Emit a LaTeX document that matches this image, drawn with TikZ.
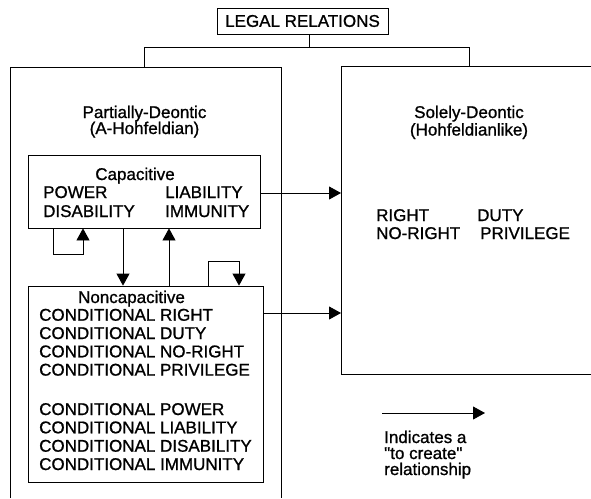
\documentclass[tikz,border=0pt]{standalone}
\usepackage{fontspec}
\setmainfont{Liberation Sans}
\font\mainf="Liberation Sans:embolden=1.0" at 17pt
\usetikzlibrary{arrows.meta}
\begin{document}
\begin{tikzpicture}[x=1pt,y=-1pt,
  line/.style={line width=0.8pt},
  arr/.style={line width=0.8pt,-{Triangle[length=12pt,width=13pt]}},
  box/.style={draw,line width=0.8pt,inner sep=0pt},
  txt/.style={inner sep=0pt,font=\mainf},
  lt/.style={txt,anchor=base west},
  ct/.style={txt,anchor=base},
]
\useasboundingbox (0,0) rectangle (591,498);
% top box
\node[box,txt,minimum width=171pt,minimum height=26pt] (legal) at (302.5,21) {LEGAL RELATIONS};
\coordinate (split) at (309,47);
\coordinate (pl) at (144,67);
\coordinate (sl) at (469,66);
\draw[line] (legal.south -| split) -- (split);
\draw[line] (pl) -- (pl |- split) -- (sl |- split) -- (sl);
% left big box (open at the bottom)
\draw[line] (10,498) -- (10,67) -- (281,67) -- (281,498);
% right big box
\coordinate (rb) at (341,66);
\draw[line] (591,66) -- (rb) -- (341,374) -- (591,374);
% headings
\node[ct] (pd1) at (144.5,118) {Partially-Deontic};
\node[ct] (pd2) at (144.5,134) {(A-Hohfeldian)};
\node[ct] (sd1) at (469,118) {Solely-Deontic};
\node[ct] (sd2) at (469,135.5) {(Hohfeldianlike)};
% right box content
\node[lt] (r1) at (376,221) {RIGHT};
\node[lt] (r2) at (477,221) {DUTY};
\node[lt] (r3) at (376,239) {NO-RIGHT};
\node[lt] (r4) at (480,239) {PRIVILEGE};
% capacitive box
\node[box,minimum width=232pt,minimum height=73pt] (cap) at (144,191.5) {};
\node[ct] (capt) at (135,180) {Capacitive};
\node[lt] (c1) at (43,198) {POWER};
\node[lt] (c2) at (43,217) {DISABILITY};
\node[lt] (c3) at (165,198) {LIABILITY};
\node[lt] (c4) at (165,217) {IMMUNITY};
% noncapacitive box
\node[box,minimum width=235pt,minimum height=196pt] (nc) at (145.5,384) {};
\node[ct] (nct) at (131.5,303) {Noncapacitive};
\foreach \t/\y [count=\i] in {RIGHT/320.7, DUTY/339, NO-RIGHT/357.3, PRIVILEGE/375.6,
  POWER/415, LIABILITY/433.3, DISABILITY/451.7, IMMUNITY/470}
  \node[lt] (n\i) at (39,\y) {CONDITIONAL \t};
% connectors
\draw[arr] (cap.east |- 0,193) -- (rb |- 0,193);
\draw[arr] (nc.east |- 0,313) -- (rb |- 0,313);
\draw[arr] (cap.south -| 123,0) -- (nc.north -| 123,0);
\draw[arr] (nc.north -| 169,0) -- (cap.south -| 169,0);
\draw[arr] (cap.south -| 53,0) -- (53,254) -- (83,254) -- (cap.south -| 83,0);
\draw[arr] (nc.north -| 208,0) -- (208,261) -- (239,261) -- (nc.north -| 239,0);
% legend
\coordinate (lg0) at (382,413);
\coordinate (lg1) at (485,413);
\draw[arr] (lg0) -- (lg1);
\node[lt] (l1) at (384,443) {Indicates a};
\node[lt] (l2) at (384,459) {"to create"};
\node[lt] (l3) at (384,475) {relationship};
\end{tikzpicture}
\end{document}
